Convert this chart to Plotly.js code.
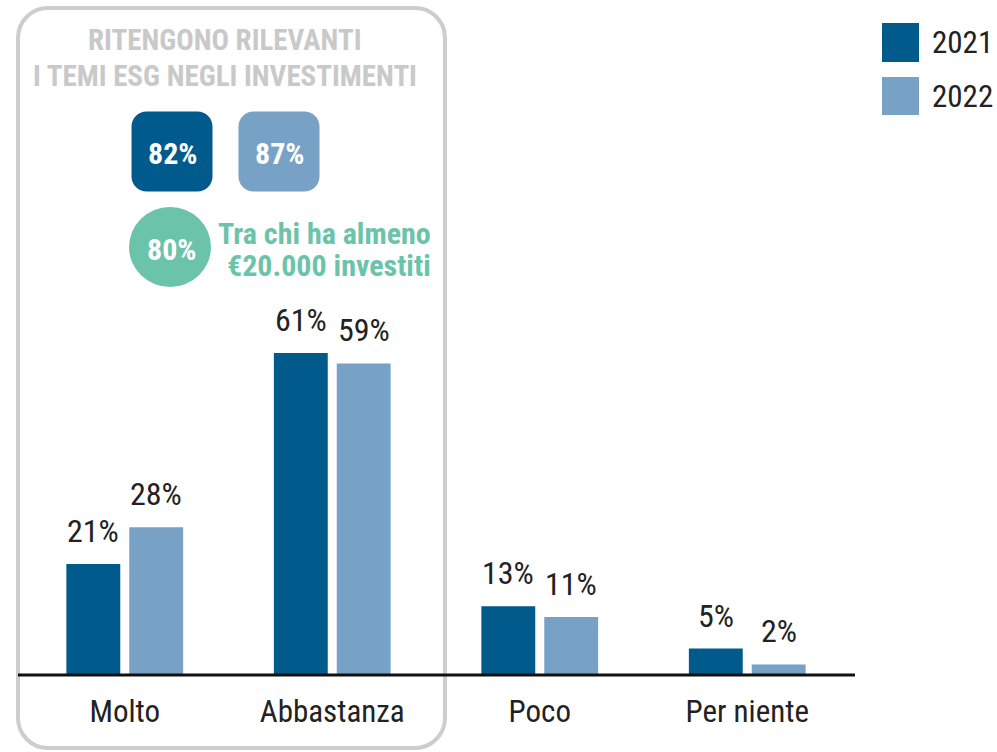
<!DOCTYPE html>
<html>
<head>
<meta charset="utf-8">
<script src="https://cdn.plot.ly/plotly-3.0.1.min.js"></script>
<style>html,body{margin:0;padding:0;background:#fff;}#chart{width:997px;height:752px;}</style>
</head>
<body>
<div id="chart"></div>
<script>
// ---- data ----
const categories = ["Molto", "Abbastanza", "Poco", "Per niente"];
const values2021 = [21, 61, 13, 5];
const values2022 = [28, 59, 11, 2];
const seriesNames = ["2021", "2022"];
const relevant2021 = 82;
const relevant2022 = 87;
const relevantInvestors = 80;
const titleLines = ["RITENGONO RILEVANTI", "I TEMI ESG NEGLI INVESTIMENTI"];
const investorNote = ["Tra chi ha almeno", "€20.000 investiti"];

// ---- styles ----
const DARK = "#005a8c", LIGHT = "#77a2c6", TEAL = "#6bc3aa", GREY = "#c9c9c9", TXT = "#222222";
const FONT = "'Liberation Sans Narrow', 'Arial Narrow', 'Roboto Condensed', 'Liberation Sans', sans-serif";
const W = 997, H = 752, ML = 21, MR = 146, MT = 147, MB = 77;
const PW = W - ML - MR, PH = H - MT - MB;
const px = x => (x - ML) / PW;          // pixel x -> paper
const py = y => (H - MB - y) / PH;      // pixel y -> paper

function rrect(w, h, r) {
  const k = 0.5523 * r, a = w / 2, b = h / 2;
  return `M ${-a + r},${-b} L ${a - r},${-b} C ${a - r + k},${-b} ${a},${-b + r - k} ${a},${-b + r} ` +
         `L ${a},${b - r} C ${a},${b - r + k} ${a - r + k},${b} ${a - r},${b} ` +
         `L ${-a + r},${b} C ${-a + r - k},${b} ${-a},${b - r + k} ${-a},${b - r} ` +
         `L ${-a},${-b + r} C ${-a},${-b + r - k} ${-a + r - k},${-b} ${-a + r},${-b} Z`;
}
function boxShape(cx, cy, w, h, r, fill, line, lw) {
  return {type: "path", xref: "paper", yref: "paper", xsizemode: "pixel", ysizemode: "pixel",
          xanchor: px(cx), yanchor: py(cy), path: rrect(w, h, r),
          fillcolor: fill, line: {color: line, width: lw}, layer: "below"};
}

const traces = [
  {type: "bar", x: categories, y: values2021, name: seriesNames[0], marker: {color: DARK}, hoverinfo: "none"},
  {type: "bar", x: categories, y: values2022, name: seriesNames[1], marker: {color: LIGHT}, hoverinfo: "none"}
];

const annotations = [];
const offs = [-31.5, 31.5];
[values2021, values2022].forEach((vals, s) => {
  vals.forEach((v, i) => {
    annotations.push({x: categories[i], y: v, xref: "x", yref: "y", xshift: offs[s], yshift: 12,
      yanchor: "bottom", xanchor: "center", showarrow: false, text: v + "%",
      font: {family: FONT, size: 32, color: TXT}});
  });
});
// title
titleLines.forEach((t, i) => {
  annotations.push({xref: "paper", yref: "paper", x: px(225), y: py(40 + i * 36), xanchor: "center", yanchor: "middle",
    showarrow: false, text: "<b>" + t + "</b>", font: {family: FONT, size: 29, color: GREY}});
});
// badges
annotations.push({xref: "paper", yref: "paper", x: px(172), y: py(153), xanchor: "center", yanchor: "middle",
  showarrow: false, text: "<b>" + relevant2021 + "%</b>", font: {family: FONT, size: 30, color: "#ffffff"}});
annotations.push({xref: "paper", yref: "paper", x: px(279), y: py(153), xanchor: "center", yanchor: "middle",
  showarrow: false, text: "<b>" + relevant2022 + "%</b>", font: {family: FONT, size: 30, color: "#ffffff"}});
annotations.push({xref: "paper", yref: "paper", x: px(171), y: py(249), xanchor: "center", yanchor: "middle",
  showarrow: false, text: "<b>" + relevantInvestors + "%</b>", font: {family: FONT, size: 30, color: "#ffffff"}});
investorNote.forEach((t, i) => {
  annotations.push({xref: "paper", yref: "paper", x: px(433), y: py(233 + i * 32), xanchor: "right", yanchor: "middle",
    showarrow: false, text: "<b>" + t + "</b>", font: {family: FONT, size: 30, color: TEAL}});
});
// legend labels
seriesNames.forEach((n, i) => {
  annotations.push({xref: "paper", yref: "paper", x: px(930), y: py(43 + i * 54), xanchor: "left", yanchor: "middle",
    showarrow: false, text: n, font: {family: FONT, size: 31, color: TXT}});
});

const shapes = [
  boxShape(231.5, 378, 427, 740, 30, "rgba(0,0,0,0)", "#cdcdcd", 4),
  boxShape(172, 151.5, 81, 80, 15, DARK, DARK, 0),
  boxShape(279, 151.5, 81, 80, 15, LIGHT, LIGHT, 0),
  {type: "circle", xref: "paper", yref: "paper", xsizemode: "pixel", ysizemode: "pixel",
   xanchor: px(170), yanchor: py(247), x0: -41, x1: 41, y0: -40, y1: 40,
   fillcolor: TEAL, line: {width: 0}, layer: "below"},
  {type: "rect", xref: "paper", yref: "paper", x0: px(882), x1: px(919), y0: py(23), y1: py(62),
   fillcolor: DARK, line: {width: 0}},
  {type: "rect", xref: "paper", yref: "paper", x0: px(882), x1: px(919), y0: py(77), y1: py(115),
   fillcolor: LIGHT, line: {width: 0}},
  {type: "line", xref: "paper", yref: "paper", x0: px(18), x1: px(855), y0: 0, y1: 0,
   line: {color: "#111111", width: 3}, layer: "above"}
];

const layout = {
  width: W, height: H,
  margin: {l: ML, r: MR, t: MT, b: MB, pad: 0},
  paper_bgcolor: "#ffffff", plot_bgcolor: "#ffffff",
  showlegend: false,
  barmode: "group", bargap: 0.394, bargroupgap: 0.143,
  font: {family: FONT, color: TXT},
  xaxis: {type: "category", showgrid: false, zeroline: false, showline: false, ticks: "",
          tickfont: {family: FONT, size: 31, color: TXT}, ticklabelstandoff: 15, fixedrange: true},
  yaxis: {range: [0, 100], visible: false, showgrid: false, zeroline: false, fixedrange: true},
  shapes: shapes,
  annotations: annotations
};

Plotly.newPlot("chart", traces, layout, {displayModeBar: false, staticPlot: true});
</script>
</body>
</html>
